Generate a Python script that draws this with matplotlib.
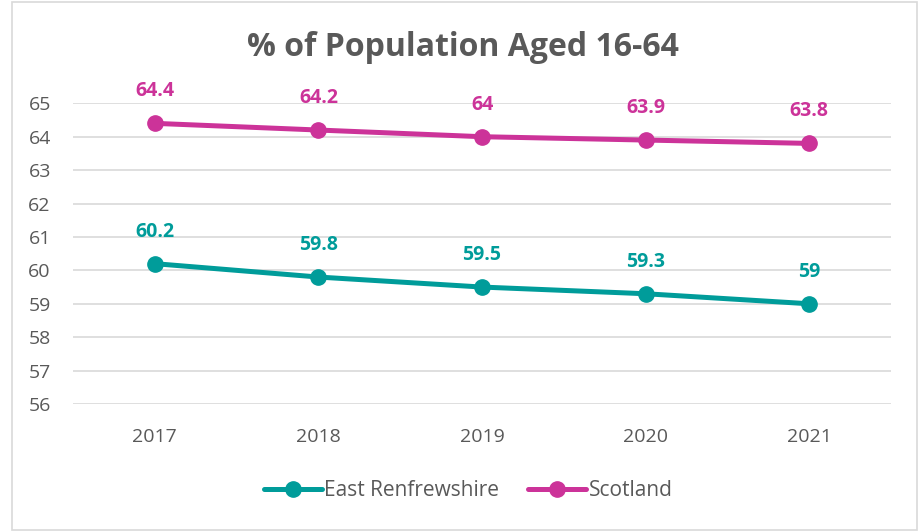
import numpy as np
import matplotlib
matplotlib.use('Agg')
import matplotlib.pyplot as plt
from matplotlib.patches import Rectangle

years = ['2017', '2018', '2019', '2020', '2021']
east_renfrewshire = [60.2, 59.8, 59.5, 59.3, 59.0]
scotland = [64.4, 64.2, 64.0, 63.9, 63.8]
labels_er = ['60.2', '59.8', '59.5', '59.3', '59']
labels_sc = ['64.4', '64.2', '64', '63.9', '63.8']

teal = '#009C9A'
pink = '#CC3399'
grey = '#595959'

plt.rcParams['font.family'] = ['Open Sans', 'DejaVu Sans']

fig = plt.figure(figsize=(9.19, 5.31), dpi=100)
fig.patches.append(Rectangle((12 / 919, 1 / 531), 905 / 919, 528 / 531,
                             transform=fig.transFigure, fill=False,
                             edgecolor='#D9D9D9', linewidth=1.2))
ax = fig.add_axes([73 / 919, 127 / 531, 818 / 919, 300.7 / 531])

x = np.arange(len(years))
ax.plot(x, east_renfrewshire, color=teal, lw=3.6, marker='o', ms=11,
        label='East Renfrewshire', solid_capstyle='round')
ax.plot(x, scotland, color=pink, lw=3.6, marker='o', ms=11,
        label='Scotland', solid_capstyle='round')

for xi, v, t in zip(x, east_renfrewshire, labels_er):
    ax.annotate(t, (xi, v), xytext=(0, 23), textcoords='offset points',
                ha='center', va='center', color=teal, fontsize=14, fontweight='bold')
for xi, v, t in zip(x, scotland, labels_sc):
    ax.annotate(t, (xi, v), xytext=(0, 23), textcoords='offset points',
                ha='center', va='center', color=pink, fontsize=14, fontweight='bold')

ax.set_xlim(-0.5, 4.5)
ax.set_ylim(56, 65)
ax.set_yticks(range(56, 66))
ax.set_xticks(x)
ax.set_xticklabels(years)
ax.grid(axis='y', color='#D9D9D9', lw=1.2)
ax.set_axisbelow(True)
for s in ax.spines.values():
    s.set_visible(False)
ax.tick_params(length=0, colors=grey, labelsize=14)
ax.tick_params(axis='x', pad=17)
ax.tick_params(axis='y', pad=16)

fig.text(463 / 919, (531 - 47) / 531, '% of Population Aged 16-64',
         ha='center', va='center', fontsize=23, fontweight='bold', color=grey)

ax.legend(loc='center', bbox_to_anchor=(468 / 919, (531 - 491) / 531),
          bbox_transform=fig.transFigure, ncol=2, frameon=False,
          fontsize=15, labelcolor=grey, handlelength=2.8,
          handletextpad=0.1, columnspacing=1.4)

plt.savefig('out.png', dpi=100)
plt.close()
